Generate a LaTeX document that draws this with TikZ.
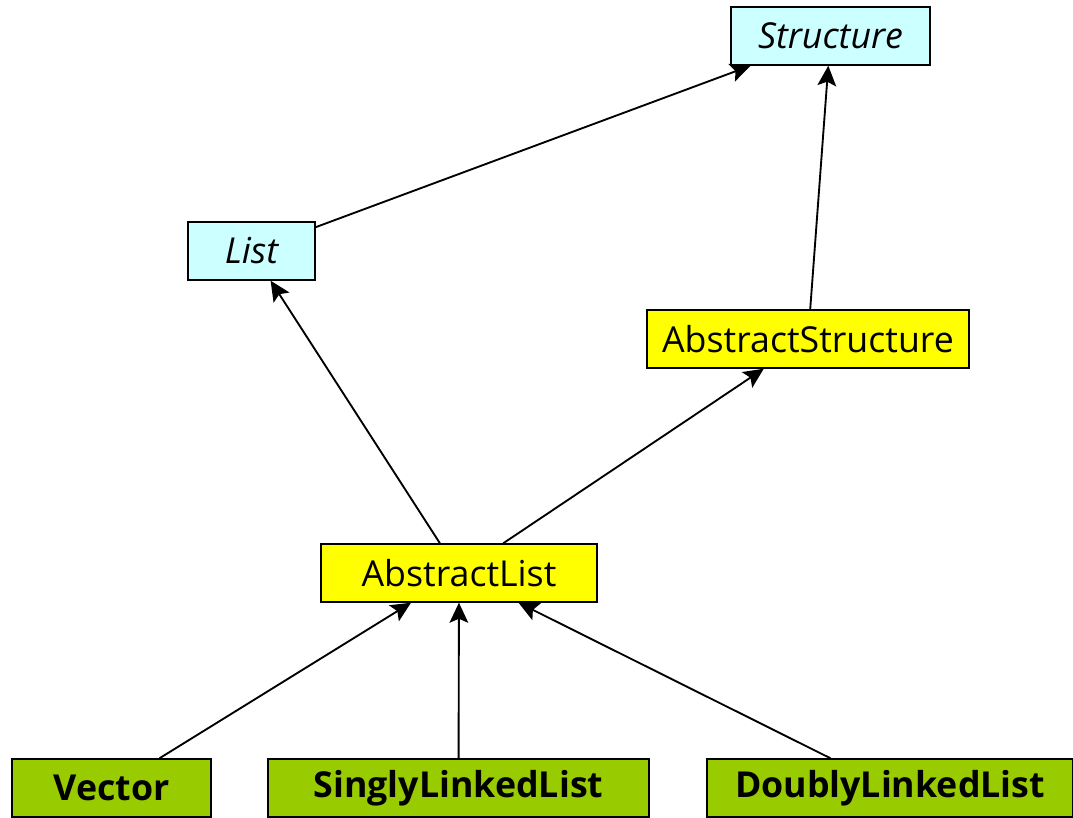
\documentclass[tikz,border=0pt]{standalone}
\usepackage{fontspec}
\setmainfont{Open Sans}
\usetikzlibrary{arrows.meta, positioning}

\definecolor{ifacecyan}{HTML}{CCFFFF}
\definecolor{absyellow}{HTML}{FFFF00}
\definecolor{implgreen}{HTML}{99CC00}

\begin{document}
\begin{tikzpicture}[
        x=0.75pt, y=-0.75pt,
        every node/.style={font=\fontsize{26.8}{30}\selectfont},
        classbox/.style={rectangle, draw, line width=1.1pt, minimum height=43.5pt, inner sep=0pt, align=center},
        iface/.style={classbox, fill=ifacecyan, font=\fontsize{26.8}{30}\selectfont\itshape},
        abstract/.style={classbox, fill=absyellow},
        concrete/.style={classbox, fill=implgreen, font=\fontsize{26.8}{30}\selectfont\bfseries},
        arrow/.style={-{Stealth[length=15pt, width=14pt, inset=3pt]}, line width=1.4pt}
    ]
        \useasboundingbox (0,0) rectangle (1073,817);
        \node[iface, minimum width=149.25pt] (structure) at (830.5,36) {Structure};
        \node[iface, minimum width=95.25pt] (list) at (251.5,251) {List};
        \node[abstract, minimum width=241.5pt] (absstructure) at (808,339) {AbstractStructure};
        \node[abstract, minimum width=207pt] (abslist) at (459,573) {AbstractList};
        \node[concrete, minimum width=149.25pt] (vector) at (111.5,788) {Vector};
        \node[concrete, minimum width=285.75pt] (singly) at (458.5,788) {SinglyLinkedList};
        \node[concrete, minimum width=274.5pt] (doubly) at (890,788) {DoublyLinkedList};
        \draw[arrow] (list) -- (structure);
        \draw[arrow] (absstructure) -- (structure);
        \draw[arrow] (abslist) -- (list);
        \draw[arrow] (abslist) -- (absstructure);
        \draw[arrow] (vector) -- (abslist);
        \draw[arrow] (singly) -- (abslist);
        \draw[arrow] (doubly) -- (abslist);
    \end{tikzpicture}
\end{document}
